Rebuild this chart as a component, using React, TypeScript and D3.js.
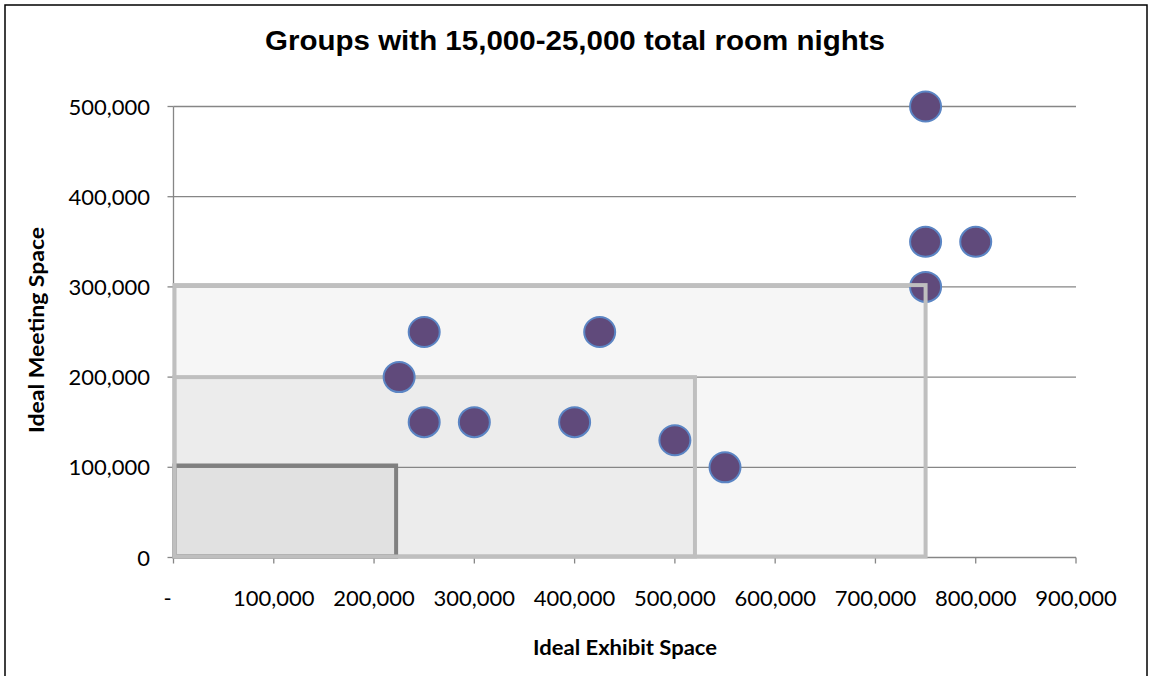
import React from "react";
import * as d3 from "d3";

// Scatter data: ideal exhibit space (x) vs ideal meeting space (y)
const exhibitSpace = [225000, 250000, 250000, 300000, 400000, 425000, 500000, 550000, 750000, 750000, 750000, 800000];
const meetingSpace = [200000, 250000, 150000, 150000, 150000, 250000, 130000, 100000, 500000, 350000, 300000, 350000];

// Capacity zones drawn as boxes from the origin (largest first)
const zoneNames = ["large", "medium", "small"];
const zoneExhibit = [750000, 520000, 222000];
const zoneMeeting = [302000, 200000, 102000];
const zoneFill = ["#f6f6f6", "#ececec", "#e1e1e1"];
const zoneStroke = ["#bfbfbf", "#bfbfbf", "#808080"];

const xTicks = [0, 100000, 200000, 300000, 400000, 500000, 600000, 700000, 800000, 900000];
const yTicks = [0, 100000, 200000, 300000, 400000, 500000];

const W = 1152;
const H = 676;
const left = 173.5;
const right = 1076;
const top = 106.5;
const bottom = 557.5;

export default function App() {
  const x = d3.scaleLinear().domain([0, 900000]).range([left, right]);
  const y = d3.scaleLinear().domain([0, 500000]).range([bottom, top]);
  const fmt = d3.format(",");
  const xLabel = (v: number) => (v === 0 ? "-" : fmt(v));
  const tickFont = "Lato, 'Open Sans', sans-serif";

  return (
    <svg
      width={W}
      height={H}
      style={{ position: "absolute", left: 0, top: 0, background: "#fff" }}
    >
      <rect x={5} y={5} width={1142} height={690} fill="#fff" stroke="#000" strokeWidth={1.5} />

      <text
        x={575}
        y={50}
        textAnchor="middle"
        fontFamily="'Liberation Sans', Arial, sans-serif"
        fontWeight="bold"
        fontSize={27}
        textLength={620}
        lengthAdjust="spacingAndGlyphs"
        fill="#000"
      >
        Groups with 15,000-25,000 total room nights
      </text>

      {/* zone fills */}
      {zoneNames.map((n, i) => (
        <rect
          key={"f" + n}
          x={x(0)}
          y={y(zoneMeeting[i])}
          width={x(zoneExhibit[i]) - x(0)}
          height={y(0) - y(zoneMeeting[i])}
          fill={zoneFill[i]}
        />
      ))}

      {/* horizontal gridlines */}
      {yTicks.filter((t) => t > 0).map((t) => (
        <line key={"g" + t} x1={left} x2={right} y1={y(t)} y2={y(t)} stroke="#868686" strokeWidth={1.3} />
      ))}

      {/* axes */}
      <line x1={left} x2={left} y1={top} y2={bottom} stroke="#868686" strokeWidth={1.3} />
      <line x1={left} x2={right} y1={bottom} y2={bottom} stroke="#868686" strokeWidth={1.3} />
      {yTicks.map((t) => (
        <line key={"yt" + t} x1={left - 6} x2={left} y1={y(t)} y2={y(t)} stroke="#868686" strokeWidth={1.3} />
      ))}
      {xTicks.map((t) => (
        <line key={"xt" + t} x1={x(t)} x2={x(t)} y1={bottom} y2={bottom + 6} stroke="#868686" strokeWidth={1.3} />
      ))}

      {/* medium and small zone outlines */}
      {zoneNames.slice(1).map((n, j) => {
        const i = j + 1;
        return (
          <rect
            key={"s" + n}
            x={x(0) + 1}
            y={y(zoneMeeting[i])}
            width={x(zoneExhibit[i]) - x(0) - 1}
            height={y(0) - y(zoneMeeting[i]) - 1}
            fill="none"
            stroke={zoneStroke[i]}
            strokeWidth={4}
          />
        );
      })}

      {/* points */}
      {exhibitSpace.map((v, i) => (
        <ellipse
          key={"p" + i}
          cx={x(v)}
          cy={y(meetingSpace[i])}
          rx={15.5}
          ry={15}
          fill="#604a7b"
          stroke="#5b85c4"
          strokeWidth={2}
        />
      ))}

      {/* large zone outline */}
      <rect
        x={x(0) + 1}
        y={y(zoneMeeting[0])}
        width={x(zoneExhibit[0]) - x(0) - 1}
        height={y(0) - y(zoneMeeting[0]) - 1}
        fill="none"
        stroke={zoneStroke[0]}
        strokeWidth={4}
      />

      {/* tick labels */}
      {yTicks.map((t) => (
        <text
          key={"yl" + t}
          x={150}
          y={y(t) + 8}
          textAnchor="end"
          fontFamily={tickFont}
          fontSize={22}
          fill="#000"
        >
          {fmt(t)}
        </text>
      ))}
      {xTicks.map((t) => (
        <text
          key={"xl" + t}
          x={t === 0 ? x(t) - 6 : x(t)}
          y={606}
          textAnchor="middle"
          fontFamily={tickFont}
          fontSize={22}
          fill="#000"
        >
          {xLabel(t)}
        </text>
      ))}

      {/* axis titles */}
      <text
        x={625}
        y={655}
        textAnchor="middle"
        fontFamily={tickFont}
        fontWeight="bold"
        fontSize={21}
        textLength={184}
        lengthAdjust="spacingAndGlyphs"
        fill="#000"
      >
        Ideal Exhibit Space
      </text>
      <text
        transform="translate(44,330) rotate(-90)"
        textAnchor="middle"
        fontFamily={tickFont}
        fontWeight="bold"
        fontSize={21}
        textLength={206}
        lengthAdjust="spacingAndGlyphs"
        fill="#000"
      >
        Ideal Meeting Space
      </text>
    </svg>
  );
}
